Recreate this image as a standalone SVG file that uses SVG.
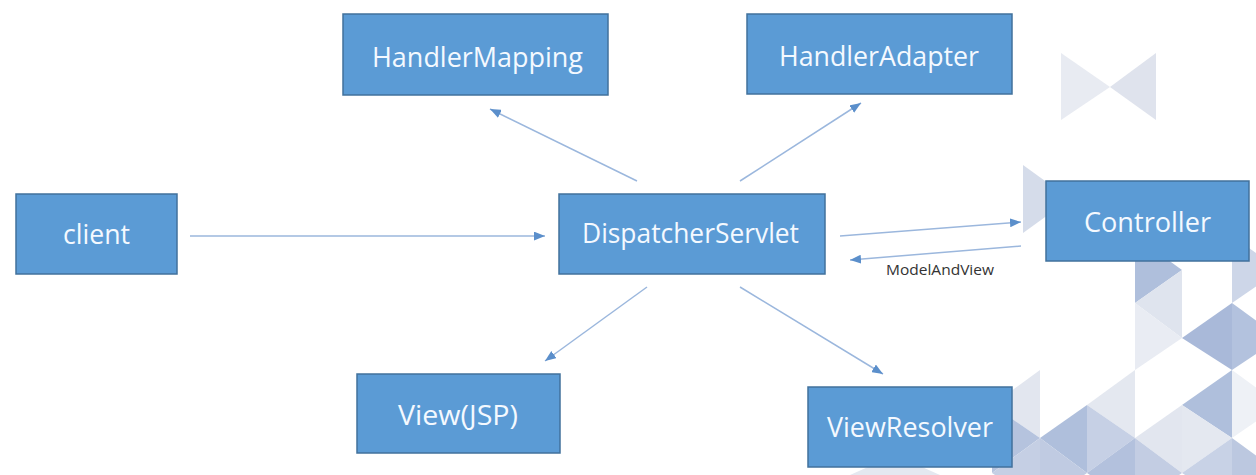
<svg xmlns="http://www.w3.org/2000/svg" width="1256" height="475" viewBox="0 0 1256 475">
  <style>
    .box { fill: #5b9bd5; stroke: #41719c; stroke-width: 1.5; }
    .lbl { font-family: "Open Sans", "Noto Sans", sans-serif; font-size: 27px; fill: #f4f9ff; }
    .edge { stroke: #9bb7dd; stroke-width: 1.5; fill: none; marker-end: url(#ah); }
    .small { font-family: "Open Sans", "Noto Sans", sans-serif; font-size: 15px; fill: #333333; }
  </style>
  <defs>
    <marker id="ah" viewBox="0 0 10 8" refX="10" refY="4" markerWidth="11" markerHeight="9" markerUnits="userSpaceOnUse" orient="auto">
      <path d="M0,0 L10,4 L0,8 z" fill="#5b8fcb"/>
    </marker>
  </defs>
  <rect width="1256" height="475" fill="#ffffff"/>
  <g id="background">
    <polygon points="1061,53 1061,120 1110,87" fill="#e8ebf2"/>
    <polygon points="1156,53 1156,120 1110,87" fill="#dfe3ed"/>
    <polygon points="1023,165 1023,233 1070,199" fill="#d5dcea"/>
    <polygon points="1135,236 1135,303 1182,270" fill="#afbfdc"/>
    <polygon points="1182,270 1182,338 1135,303" fill="#dfe4ee"/>
    <polygon points="1135,303 1135,370 1182,338" fill="#e9ecf3"/>
    <polygon points="1232,236 1232,303 1280,270" fill="#cdd6e8"/>
    <polygon points="1232,303 1232,370 1182,338" fill="#a9b9d9"/>
    <polygon points="1232,303 1232,370 1280,338" fill="#b3c2de"/>
    <polygon points="1232,370 1232,438 1182,405" fill="#afbfdc"/>
    <polygon points="1232,370 1232,438 1280,405" fill="#eef1f6"/>
    <polygon points="1182,405 1182,473 1232,438" fill="#e4e8f0"/>
    <polygon points="1232,438 1232,505 1182,473" fill="#c8d2e6"/>
    <polygon points="1232,438 1232,505 1280,473" fill="#bcc8e0"/>
    <polygon points="1182,405 1182,473 1135,438" fill="#e2e6ef"/>
    <polygon points="1135,438 1135,505 1182,473" fill="#c3cde3"/>
    <polygon points="1135,370 1135,438 1087,405" fill="#e4e8f0"/>
    <polygon points="1087,405 1087,473 1135,438" fill="#c6d0e5"/>
    <polygon points="1135,438 1135,505 1087,473" fill="#b3c1dd"/>
    <polygon points="1087,405 1087,473 1040,438" fill="#afbfdc"/>
    <polygon points="1040,438 1040,505 1087,473" fill="#c0cbe2"/>
    <polygon points="1040,370 1040,438 992,405" fill="#e2e6ef"/>
    <polygon points="992,405 992,473 1040,438" fill="#b5c3de"/>
    <polygon points="1040,438 1040,505 992,473" fill="#c5cfe4"/>
    <polygon points="850,475 895,455 940,475" fill="#e4e8f0"/>
  </g>
  <g id="connectors">
    <line class="edge" x1="190" y1="236" x2="545" y2="236"/>
    <line class="edge" x1="637" y1="181" x2="490" y2="109"/>
    <line class="edge" x1="740" y1="181" x2="861" y2="103"/>
    <line class="edge" x1="840" y1="236" x2="1021" y2="222"/>
    <line class="edge" x1="1021" y1="246" x2="850" y2="260"/>
    <line class="edge" x1="647" y1="287" x2="545" y2="361"/>
    <line class="edge" x1="740" y1="287" x2="883" y2="374"/>
    <text class="small" x="886" y="275" textLength="108" lengthAdjust="spacingAndGlyphs">ModelAndView</text>
  </g>
  <g id="client">
    <rect class="box" x="16" y="194" width="161" height="80"/>
    <text class="lbl" x="63" y="244" textLength="67" lengthAdjust="spacingAndGlyphs">client</text>
  </g>
  <g id="handlerMapping">
    <rect class="box" x="343" y="14" width="265" height="81"/>
    <text class="lbl" x="372" y="67" textLength="211" lengthAdjust="spacingAndGlyphs">HandlerMapping</text>
  </g>
  <g id="handlerAdapter">
    <rect class="box" x="747" y="14" width="265" height="80"/>
    <text class="lbl" x="779" y="66" textLength="200" lengthAdjust="spacingAndGlyphs">HandlerAdapter</text>
  </g>
  <g id="dispatcherServlet">
    <rect class="box" x="559" y="194" width="266" height="80"/>
    <text class="lbl" x="582" y="243" textLength="217" lengthAdjust="spacingAndGlyphs">DispatcherServlet</text>
  </g>
  <g id="controller">
    <rect class="box" x="1046" y="181" width="203" height="80"/>
    <text class="lbl" x="1084" y="232" textLength="127" lengthAdjust="spacingAndGlyphs">Controller</text>
  </g>
  <g id="viewJsp">
    <rect class="box" x="357" y="374" width="203" height="79"/>
    <text class="lbl" x="398" y="425" textLength="120" lengthAdjust="spacingAndGlyphs">View(JSP)</text>
  </g>
  <g id="viewResolver">
    <rect class="box" x="808" y="387" width="204" height="80"/>
    <text class="lbl" x="827" y="437" textLength="166" lengthAdjust="spacingAndGlyphs">ViewResolver</text>
  </g>
</svg>
